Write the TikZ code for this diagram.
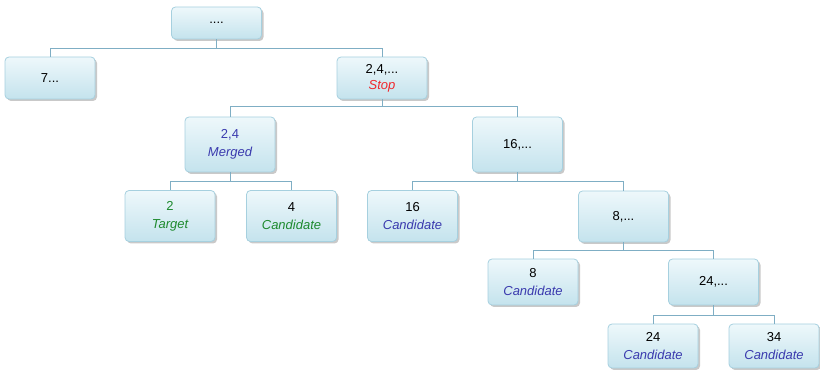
\documentclass[tikz,border=0pt]{standalone}
\usepackage{fontspec}
\setmainfont{Liberation Sans}
\usepackage{xcolor}
\usetikzlibrary{shadows}

\definecolor{boxtop}{HTML}{EEF8FB}
\definecolor{boxbot}{HTML}{C4E3ED}
\definecolor{boxline}{HTML}{A6D0DF}
\definecolor{linkblue}{HTML}{7FAEC4}
\definecolor{stopred}{HTML}{F0282D}
\definecolor{candblue}{HTML}{3A3AAE}
\definecolor{targgreen}{HTML}{1E8A2E}

\tikzset{
  tbox/.style={draw=boxline, line width=0.8pt, rounded corners=4pt,
    top color=boxtop, bottom color=boxbot, minimum width=90pt,
    align=center, inner sep=2pt,
    font=\fontsize{13}{18}\selectfont,
    drop shadow={shadow xshift=2pt, shadow yshift=-2pt, opacity=0.5, fill=gray!85}},
  link/.style={draw=linkblue, line width=0.7pt}
}

\begin{document}
\begin{tikzpicture}[x=1pt, y=-1pt]
  \useasboundingbox (0,0) rectangle (820,371);
  % level 0 and 1
  \node[tbox, minimum height=32pt] (root) at (216.5,23) {....};
  \node[tbox, minimum height=42pt] (n7) at (50,78) {7...};
  \node[tbox, minimum height=42pt, font=\fontsize{13}{16}\selectfont] (stop) at (382,78) {2,4,...\\\textit{\color{stopred}Stop}};
  % level 2
  \node[tbox, minimum height=55pt] (merged) at (230,144.5) {\color{candblue}2,4\\\textit{\color{candblue}Merged}};
  \node[tbox, minimum height=55pt] (n16) at (517.5,144.5) {16,...};
  % level 3
  \node[tbox, minimum height=51pt] (target) at (170,216) {\color{targgreen}2\\\textit{\color{targgreen}Target}};
  \node[tbox, minimum height=51pt] (cand4) at (291.5,216) {4\\\textit{\color{targgreen}Candidate}};
  \node[tbox, minimum height=51pt] (cand16) at (412.5,216) {16\\\textit{\color{candblue}Candidate}};
  \node[tbox, minimum height=51pt] (n8) at (623.5,216.5) {8,...};
  % level 4
  \node[tbox, minimum height=46pt] (cand8) at (533,282) {8\\\textit{\color{candblue}Candidate}};
  \node[tbox, minimum height=46pt] (n24) at (713.5,282) {24,...};
  % level 5
  \node[tbox, minimum height=44pt] (cand24) at (653,346) {24\\\textit{\color{candblue}Candidate}};
  \node[tbox, minimum height=44pt] (cand34) at (774,346) {34\\\textit{\color{candblue}Candidate}};

  % connectors
  \draw[link] (root.south) -- ++(0,9) -| (n7.north);
  \draw[link] (root.south) -- ++(0,9) -| (stop.north);
  \draw[link] (stop.south) -- ++(0,7) -| (merged.north);
  \draw[link] (stop.south) -- ++(0,7) -| (n16.north);
  \draw[link] (merged.south) -- ++(0,9) -| (target.north);
  \draw[link] (merged.south) -- ++(0,9) -| (cand4.north);
  \draw[link] (n16.south) -- ++(0,9) -| (cand16.north);
  \draw[link] (n16.south) -- ++(0,9) -| (n8.north);
  \draw[link] (n8.south) -- ++(0,8) -| (cand8.north);
  \draw[link] (n8.south) -- ++(0,8) -| (n24.north);
  \draw[link] (n24.south) -- ++(0,10) -| (cand24.north);
  \draw[link] (n24.south) -- ++(0,10) -| (cand34.north);
\end{tikzpicture}
\end{document}
